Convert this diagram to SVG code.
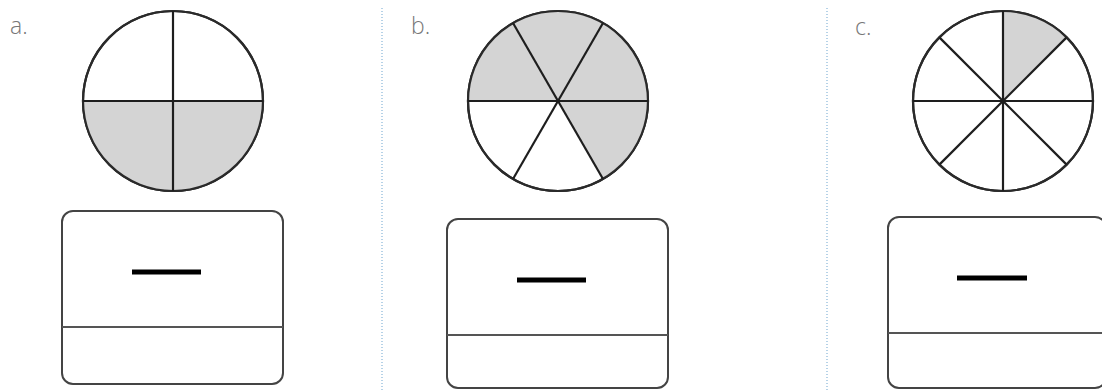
<svg xmlns="http://www.w3.org/2000/svg" width="1102" height="390" viewBox="0 0 1102 390">
<style>
.circ{fill:#fff;stroke:#2a2a2a;stroke-width:2.2}
.sh{fill:#d4d4d4;stroke:none}
.ln{stroke:#1e1e1e;stroke-width:2.2;fill:none}
.box{fill:#fff;stroke:#444;stroke-width:2}
.div{stroke:#555;stroke-width:1.8}
.dash{stroke:#000;stroke-width:5}
.lbl{font-family:"Open Sans","Liberation Sans",sans-serif;font-size:23px;fill:#777;font-weight:300}
.sep{stroke:#9fc4e0;stroke-width:1.5;stroke-dasharray:1 2}
</style>
<rect width="1102" height="390" fill="#fff"/>
<g id="separators">
<line class="sep" x1="382" y1="8" x2="382" y2="390"/>
<line class="sep" x1="827" y1="8" x2="827" y2="390"/>
</g>
<g id="panel-a">
<text class="lbl" x="10" y="34">a.</text>
<circle class="circ" cx="173" cy="101" r="90"/>
<path class="sh" d="M83 101 H263 A90 90 0 0 1 83 101 Z"/>
<circle class="circ" cx="173" cy="101" r="90" style="fill:none"/>
<line class="ln" x1="83" y1="101" x2="263" y2="101"/>
<line class="ln" x1="173" y1="11" x2="173" y2="191"/>
<rect class="box" x="62" y="211" width="221" height="173" rx="11"/>
<line class="div" x1="62" y1="327" x2="283" y2="327"/>
<line class="dash" x1="132" y1="272" x2="201" y2="272"/>
</g>
<g id="panel-b">
<text class="lbl" x="411" y="34">b.</text>
<circle class="circ" cx="558" cy="101" r="90"/>
<path class="sh" d="M558 101 L468 101 A90 90 0 0 1 603 23.06 A90 90 0 0 1 648 101 A90 90 0 0 1 603 178.94 Z"/>
<circle class="circ" cx="558" cy="101" r="90" style="fill:none"/>
<line class="ln" x1="468" y1="101" x2="648" y2="101"/>
<line class="ln" x1="513" y1="23.06" x2="603" y2="178.94"/>
<line class="ln" x1="603" y1="23.06" x2="513" y2="178.94"/>
<rect class="box" x="447" y="219" width="221" height="169" rx="11"/>
<line class="div" x1="447" y1="335" x2="668" y2="335"/>
<line class="dash" x1="517" y1="280" x2="586" y2="280"/>
</g>
<g id="panel-c">
<text class="lbl" x="855" y="35">c.</text>
<circle class="circ" cx="1003" cy="101" r="90"/>
<path class="sh" d="M1003 101 L1003 11 A90 90 0 0 1 1066.64 37.36 Z"/>
<circle class="circ" cx="1003" cy="101" r="90" style="fill:none"/>
<line class="ln" x1="913" y1="101" x2="1093" y2="101"/>
<line class="ln" x1="1003" y1="11" x2="1003" y2="191"/>
<line class="ln" x1="939.36" y1="37.36" x2="1066.64" y2="164.64"/>
<line class="ln" x1="1066.64" y1="37.36" x2="939.36" y2="164.64"/>
<rect class="box" x="888" y="217" width="218" height="171" rx="11"/>
<line class="div" x1="888" y1="333" x2="1102" y2="333"/>
<line class="dash" x1="957" y1="278" x2="1027" y2="278"/>
</g>
</svg>
